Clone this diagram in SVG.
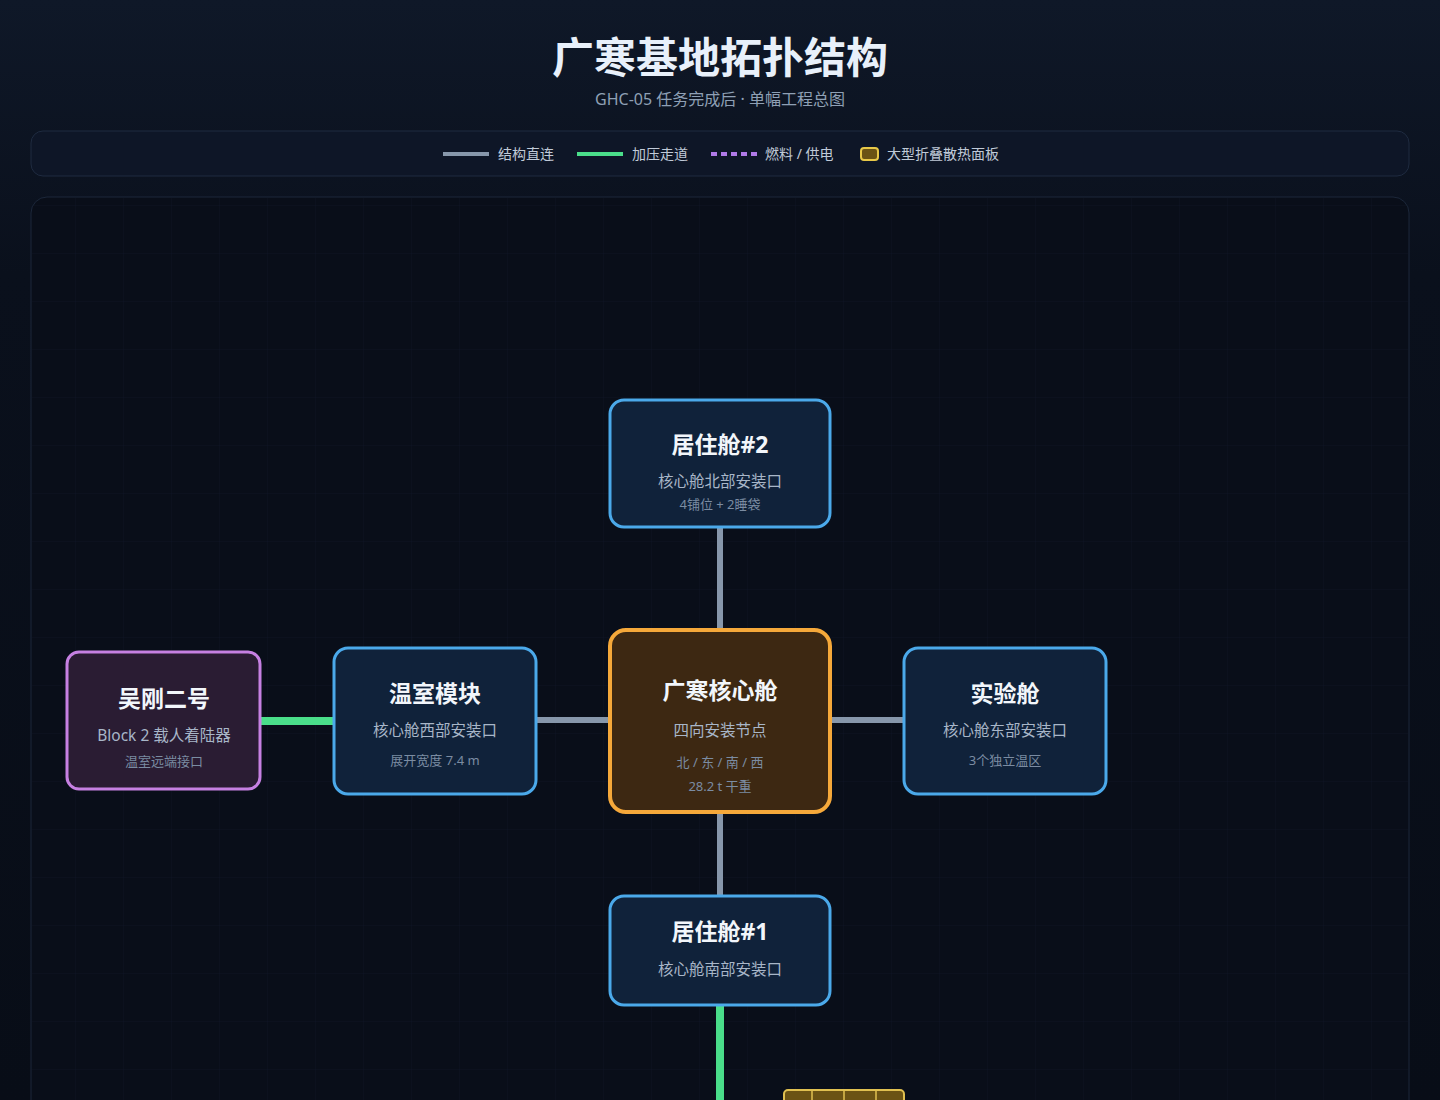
<svg xmlns="http://www.w3.org/2000/svg" width="1440" height="1100" viewBox="0 0 1440 1100">
<defs>
<linearGradient id="bg" x1="0" y1="0" x2="0" y2="1">
<stop offset="0" stop-color="#0f1828"/>
<stop offset="0.25" stop-color="#0a101c"/>
<stop offset="1" stop-color="#080d17"/>
</linearGradient>
<pattern id="grid" x="27" y="13" width="48" height="48" patternUnits="userSpaceOnUse">
<path d="M0 0V48M0 0H48" fill="none" stroke="#16213a" stroke-width="1" opacity="0.3"/>
</pattern>
<style>
text{font-family:"Noto Sans","Noto Sans CJK SC",sans-serif;text-anchor:middle}
.t{font-size:23px;font-weight:700;fill:#f2f6fb}
.s{font-size:15.5px;fill:#a8b6c8}
.m{font-size:13px;fill:#7b8ca2}
.lg{font-size:14px;fill:#c0cad8;text-anchor:start}
.blue{fill:#10223a;stroke:#4ba9ea;stroke-width:3}
.gray{stroke:#8797ab;stroke-width:6;fill:none}
.green{stroke:#4ade8a;stroke-width:8;fill:none}
</style>
</defs>
<rect width="1440" height="1100" fill="url(#bg)"/>
<text x="720" y="73" style="font-size:42px;font-weight:700;fill:#e8f0fa">广寒基地拓扑结构</text>
<text x="720" y="105" style="font-size:16px;fill:#8fa0b5">GHC-05 任务完成后 · 单幅工程总图</text>
<g id="legend">
<rect x="31" y="131" width="1378" height="45" rx="12" fill="#0e1627" stroke="#1f2b40"/>
<line x1="443" y1="154" x2="489" y2="154" stroke="#8797ab" stroke-width="4"/>
<text class="lg" x="498" y="159">结构直连</text>
<line x1="577" y1="154" x2="623" y2="154" stroke="#4ade8a" stroke-width="4"/>
<text class="lg" x="632" y="159">加压走道</text>
<line x1="711" y1="154" x2="757" y2="154" stroke="#b07ae8" stroke-width="4" stroke-dasharray="6 4"/>
<text class="lg" x="765" y="159">燃料 / 供电</text>
<rect x="861" y="148" width="17" height="12" rx="3" fill="#6b5314" stroke="#e8c848" stroke-width="2"/>
<text class="lg" x="887" y="159">大型折叠散热面板</text>
</g>
<rect x="31" y="197" width="1378" height="940" rx="16" fill="#090e19" stroke="#1c273a"/>
<rect x="32" y="198" width="1376" height="938" rx="15" fill="url(#grid)"/>
<g id="connectors">
<line class="gray" x1="720" y1="528" x2="720" y2="629"/>
<line class="gray" x1="536" y1="720" x2="609" y2="720"/>
<line class="gray" x1="831" y1="720" x2="904" y2="720"/>
<line class="gray" x1="720" y1="813" x2="720" y2="896"/>
<line class="green" x1="720" y1="1006" x2="720" y2="1100"/>
<line class="green" x1="260" y1="721" x2="334" y2="721"/>
</g>
<g id="hab2">
<rect class="blue" x="610" y="400" width="220" height="127" rx="14"/>
<text class="t" x="720" y="453">居住舱#2</text>
<text class="s" x="720" y="487">核心舱北部安装口</text>
<text class="m" x="720" y="509">4铺位 + 2睡袋</text>
</g>
<g id="core">
<rect x="610" y="630" width="220" height="182" rx="16" fill="#3d2812" stroke="#f5a83a" stroke-width="4"/>
<text class="t" x="720" y="699">广寒核心舱</text>
<text class="s" x="720" y="736">四向安装节点</text>
<text class="m" x="720" y="767">北 / 东 / 南 / 西</text>
<text class="m" x="720" y="791">28.2 t 干重</text>
</g>
<g id="greenhouse">
<rect class="blue" x="334" y="648" width="202" height="146" rx="14"/>
<text class="t" x="435" y="702">温室模块</text>
<text class="s" x="435" y="736">核心舱西部安装口</text>
<text class="m" x="435" y="765">展开宽度 7.4 m</text>
</g>
<g id="lab">
<rect class="blue" x="904" y="648" width="202" height="146" rx="14"/>
<text class="t" x="1005" y="702">实验舱</text>
<text class="s" x="1005" y="736">核心舱东部安装口</text>
<text class="m" x="1005" y="765">3个独立温区</text>
</g>
<g id="lander">
<rect x="67" y="652" width="193" height="137" rx="12" fill="#2a1c33" stroke="#c680e2" stroke-width="3"/>
<text class="t" x="164" y="707">吴刚二号</text>
<text class="s" x="164" y="741">Block 2 载人着陆器</text>
<text class="m" x="164" y="766">温室远端接口</text>
</g>
<g id="hab1">
<rect class="blue" x="610" y="896" width="220" height="109" rx="14"/>
<text class="t" x="720" y="940">居住舱#1</text>
<text class="s" x="720" y="975">核心舱南部安装口</text>
</g>
<g id="radiator">
<rect x="784" y="1090" width="120" height="40" rx="4" fill="#6b5314" stroke="#e0c050" stroke-width="2"/>
<line x1="812" y1="1090" x2="812" y2="1130" stroke="#e0c050" stroke-width="1.5"/>
<line x1="844" y1="1090" x2="844" y2="1130" stroke="#e0c050" stroke-width="1.5"/>
<line x1="876" y1="1090" x2="876" y2="1130" stroke="#e0c050" stroke-width="1.5"/>
</g>
</svg>
